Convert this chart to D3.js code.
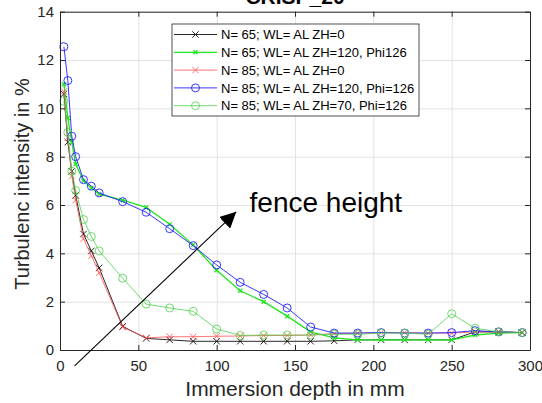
<!DOCTYPE html>
<html>
<head>
<meta charset="utf-8">
<script src="https://cdn.jsdelivr.net/npm/d3@7/dist/d3.min.js"></script>
<style>
  html, body { margin: 0; padding: 0; background: #fff; }
  svg { display: block; font-family: "Liberation Sans", Arial, sans-serif; }
</style>
</head>
<body>
<svg id="chart" width="542" height="403"></svg>
<script>
// Immersion depths (mm) shared by all measurement series
const depth = [2.5, 5, 7.5, 10, 15, 20, 25, 40, 55, 70, 85, 100, 115, 130, 145, 160, 175, 190, 205, 220, 235, 250, 265, 280, 295];

// Turbulence intensity (%) per configuration
const n65ZH0 = [10.6, 8.6, 7.4, 6.4, 4.8, 4.1, 3.4, 0.98, 0.48, 0.42, 0.36, 0.36, 0.36, 0.36, 0.36, 0.36, 0.38, 0.42, 0.42, 0.42, 0.42, 0.42, 0.75, 0.75, 0.72];
const n65ZH120 = [11.0, 9.6, 8.6, 7.7, 7.0, 6.7, 6.45, 6.2, 5.9, 5.2, 4.35, 3.3, 2.45, 2.0, 1.4, 0.75, 0.5, 0.42, 0.42, 0.42, 0.42, 0.42, 0.62, 0.7, 0.72];
const n85ZH0 = [10.7, 8.8, 7.2, 6.2, 4.6, 3.9, 3.2, 0.95, 0.5, 0.55, 0.55, 0.57, 0.58, 0.6, 0.6, 0.62, 0.68, 0.7, 0.72, 0.72, 0.7, 0.7, 0.75, 0.75, 0.72];
const n85ZH120 = [12.55, 11.15, 8.85, 8.0, 7.05, 6.78, 6.5, 6.14, 5.7, 5.02, 4.32, 3.52, 2.8, 2.3, 1.74, 0.95, 0.7, 0.7, 0.72, 0.7, 0.7, 0.72, 0.8, 0.75, 0.72];
const n85ZH70 = [10.3, 9.0, 7.4, 6.6, 5.4, 4.7, 4.1, 2.97, 1.9, 1.74, 1.6, 0.87, 0.6, 0.62, 0.62, 0.62, 0.65, 0.65, 0.7, 0.7, 0.65, 1.5, 0.9, 0.75, 0.72];

const seriesNames = [
  "N= 65; WL= AL ZH=0",
  "N= 65; WL= AL ZH=120, Phi126",
  "N= 85; WL= AL ZH=0",
  "N= 85; WL= AL ZH=120, Phi=126",
  "N= 85; WL= AL ZH=70, Phi=126"
];
const seriesValues = [n65ZH0, n65ZH120, n85ZH0, n85ZH120, n85ZH70];

const xTicks = [0, 50, 100, 150, 200, 250, 300];
const yTicks = [0, 2, 4, 6, 8, 10, 12, 14];

const titleText = "CRISP_20";
const xLabel = "Immersion depth in mm";
const yLabel = "Turbulenc intensity in %";
const noteText = "fence height";

// Visual style for each series (colour, marker, stroke width)
const styles = [
  { color: "#111111", marker: "x", size: 3.2, width: 0.9 },
  { color: "#1ee61e", marker: "x", size: 2.0, width: 1.3 },
  { color: "#ff5050", marker: "x", size: 3.2, width: 0.8 },
  { color: "#2020ff", marker: "o", size: 4.0, width: 0.9 },
  { color: "#4cd24c", marker: "o", size: 4.0, width: 0.8 }
];

const svg = d3.select("#chart");
const plot = { left: 60, right: 530, top: 11.7, bottom: 350 };
const W = plot.right - plot.left, H = plot.bottom - plot.top;

const x = d3.scaleLinear().domain([0, 300]).range([plot.left, plot.right]);
const y = d3.scaleLinear().domain([0, 14]).range([plot.bottom, plot.top]);

const axisColor = "#262626";

// grid
svg.append("g")
  .attr("transform", `translate(0,${plot.bottom})`)
  .call(d3.axisBottom(x).tickValues(xTicks).tickSize(-H).tickFormat(""))
  .call(g => g.select(".domain").remove())
  .call(g => g.selectAll("line").attr("stroke", "#e3e3e3").attr("stroke-width", 1));
svg.append("g")
  .attr("transform", `translate(${plot.left},0)`)
  .call(d3.axisLeft(y).tickValues(yTicks).tickSize(-W).tickFormat(""))
  .call(g => g.select(".domain").remove())
  .call(g => g.selectAll("line").attr("stroke", "#e3e3e3").attr("stroke-width", 1));

// series lines and markers
const line = d3.line().x((d, i) => x(depth[i])).y(d => y(d));
const series = svg.append("g");
seriesValues.forEach((vals, k) => {
  const st = styles[k];
  const g = series.append("g");
  g.append("path")
    .attr("d", line(vals))
    .attr("fill", "none")
    .attr("stroke", st.color)
    .attr("stroke-width", st.width);
  vals.forEach((v, i) => drawMarker(g, x(depth[i]), y(v), st));
});

function drawMarker(g, cx, cy, st) {
  const s = st.size;
  if (st.marker === "o") {
    g.append("circle").attr("cx", cx).attr("cy", cy).attr("r", s)
      .attr("fill", "none").attr("stroke", st.color).attr("stroke-width", st.width);
  } else {
    g.append("path")
      .attr("d", `M${cx - s},${cy - s}L${cx + s},${cy + s}M${cx - s},${cy + s}L${cx + s},${cy - s}`)
      .attr("stroke", st.color).attr("stroke-width", st.width).attr("fill", "none");
  }
}

// axes (ticks pointing inward, box on)
const fontTick = 15;
svg.append("g")
  .attr("transform", `translate(0,${plot.bottom})`)
  .call(d3.axisBottom(x).tickValues(xTicks).tickSizeInner(-5).tickSizeOuter(0).tickPadding(10))
  .call(g => g.selectAll("text").attr("font-size", fontTick).attr("fill", axisColor).attr("font-family", "Liberation Sans, Arial, sans-serif"))
  .call(g => g.selectAll("line,path").attr("stroke", axisColor));
svg.append("g")
  .attr("transform", `translate(0,${plot.top})`)
  .call(d3.axisTop(x).tickValues(xTicks).tickSizeInner(-5).tickSizeOuter(0).tickFormat(""))
  .call(g => g.selectAll("line,path").attr("stroke", axisColor));
svg.append("g")
  .attr("transform", `translate(${plot.left},0)`)
  .call(d3.axisLeft(y).tickValues(yTicks).tickSizeInner(-5).tickSizeOuter(0).tickPadding(6))
  .call(g => g.selectAll("text").attr("font-size", fontTick).attr("fill", axisColor).attr("font-family", "Liberation Sans, Arial, sans-serif"))
  .call(g => g.selectAll("line,path").attr("stroke", axisColor));
svg.append("g")
  .attr("transform", `translate(${plot.right},0)`)
  .call(d3.axisRight(y).tickValues(yTicks).tickSizeInner(-5).tickSizeOuter(0).tickFormat(""))
  .call(g => g.selectAll("line,path").attr("stroke", axisColor));

// titles
svg.append("text").attr("x", (plot.left + plot.right) / 2).attr("y", 4)
  .attr("text-anchor", "middle").attr("font-size", 21).attr("font-weight", "bold")
  .attr("fill", "#000").text(titleText);
svg.append("text").attr("x", (plot.left + plot.right) / 2).attr("y", 396)
  .attr("text-anchor", "middle").attr("font-size", 21).attr("fill", axisColor).text(xLabel);
svg.append("text").attr("transform", `translate(29,${184}) rotate(-90)`)
  .attr("text-anchor", "middle").attr("font-size", 20).attr("fill", axisColor).text(yLabel);

// legend
const leg = { left: 172, top: 24, width: 247, rowH: 17.8 };
const legG = svg.append("g");
legG.append("rect").attr("x", leg.left).attr("y", leg.top)
  .attr("width", leg.width).attr("height", leg.rowH * seriesNames.length + 3)
  .attr("fill", "#fff").attr("stroke", axisColor).attr("stroke-width", 0.8);
seriesNames.forEach((name, k) => {
  const st = styles[k];
  const cy = leg.top + 10.5 + k * leg.rowH;
  legG.append("line").attr("x1", leg.left + 2).attr("x2", leg.left + 45)
    .attr("y1", cy).attr("y2", cy).attr("stroke", st.color).attr("stroke-width", st.width);
  drawMarker(legG, leg.left + 23.5, cy, st);
  legG.append("text").attr("x", leg.left + 49).attr("y", cy + 4.6)
    .attr("font-size", 13).attr("fill", "#000").text(name);
});

// annotation arrow pointing to the fence height
const noteFrom = { d: 9.3, v: -0.66 };
const noteTo = { d: 112.5, v: 5.72 };
const noteAt = { d: 121, v: 5.7 };
svg.append("defs").append("marker")
  .attr("id", "arrowhead").attr("viewBox", "0 0 10 10").attr("refX", 10).attr("refY", 5)
  .attr("markerWidth", 16).attr("markerHeight", 16).attr("markerUnits", "userSpaceOnUse")
  .attr("orient", "auto")
  .append("path").attr("d", "M0,0L10,5L0,10z").attr("fill", "#000");
svg.append("line")
  .attr("x1", x(noteFrom.d)).attr("y1", y(noteFrom.v))
  .attr("x2", x(noteTo.d)).attr("y2", y(noteTo.v))
  .attr("stroke", "#000").attr("stroke-width", 1.1)
  .attr("marker-end", "url(#arrowhead)");
svg.append("text").attr("x", x(noteAt.d)).attr("y", y(noteAt.v))
  .attr("font-size", 28).attr("fill", "#000").text(noteText);
</script>
</body>
</html>
